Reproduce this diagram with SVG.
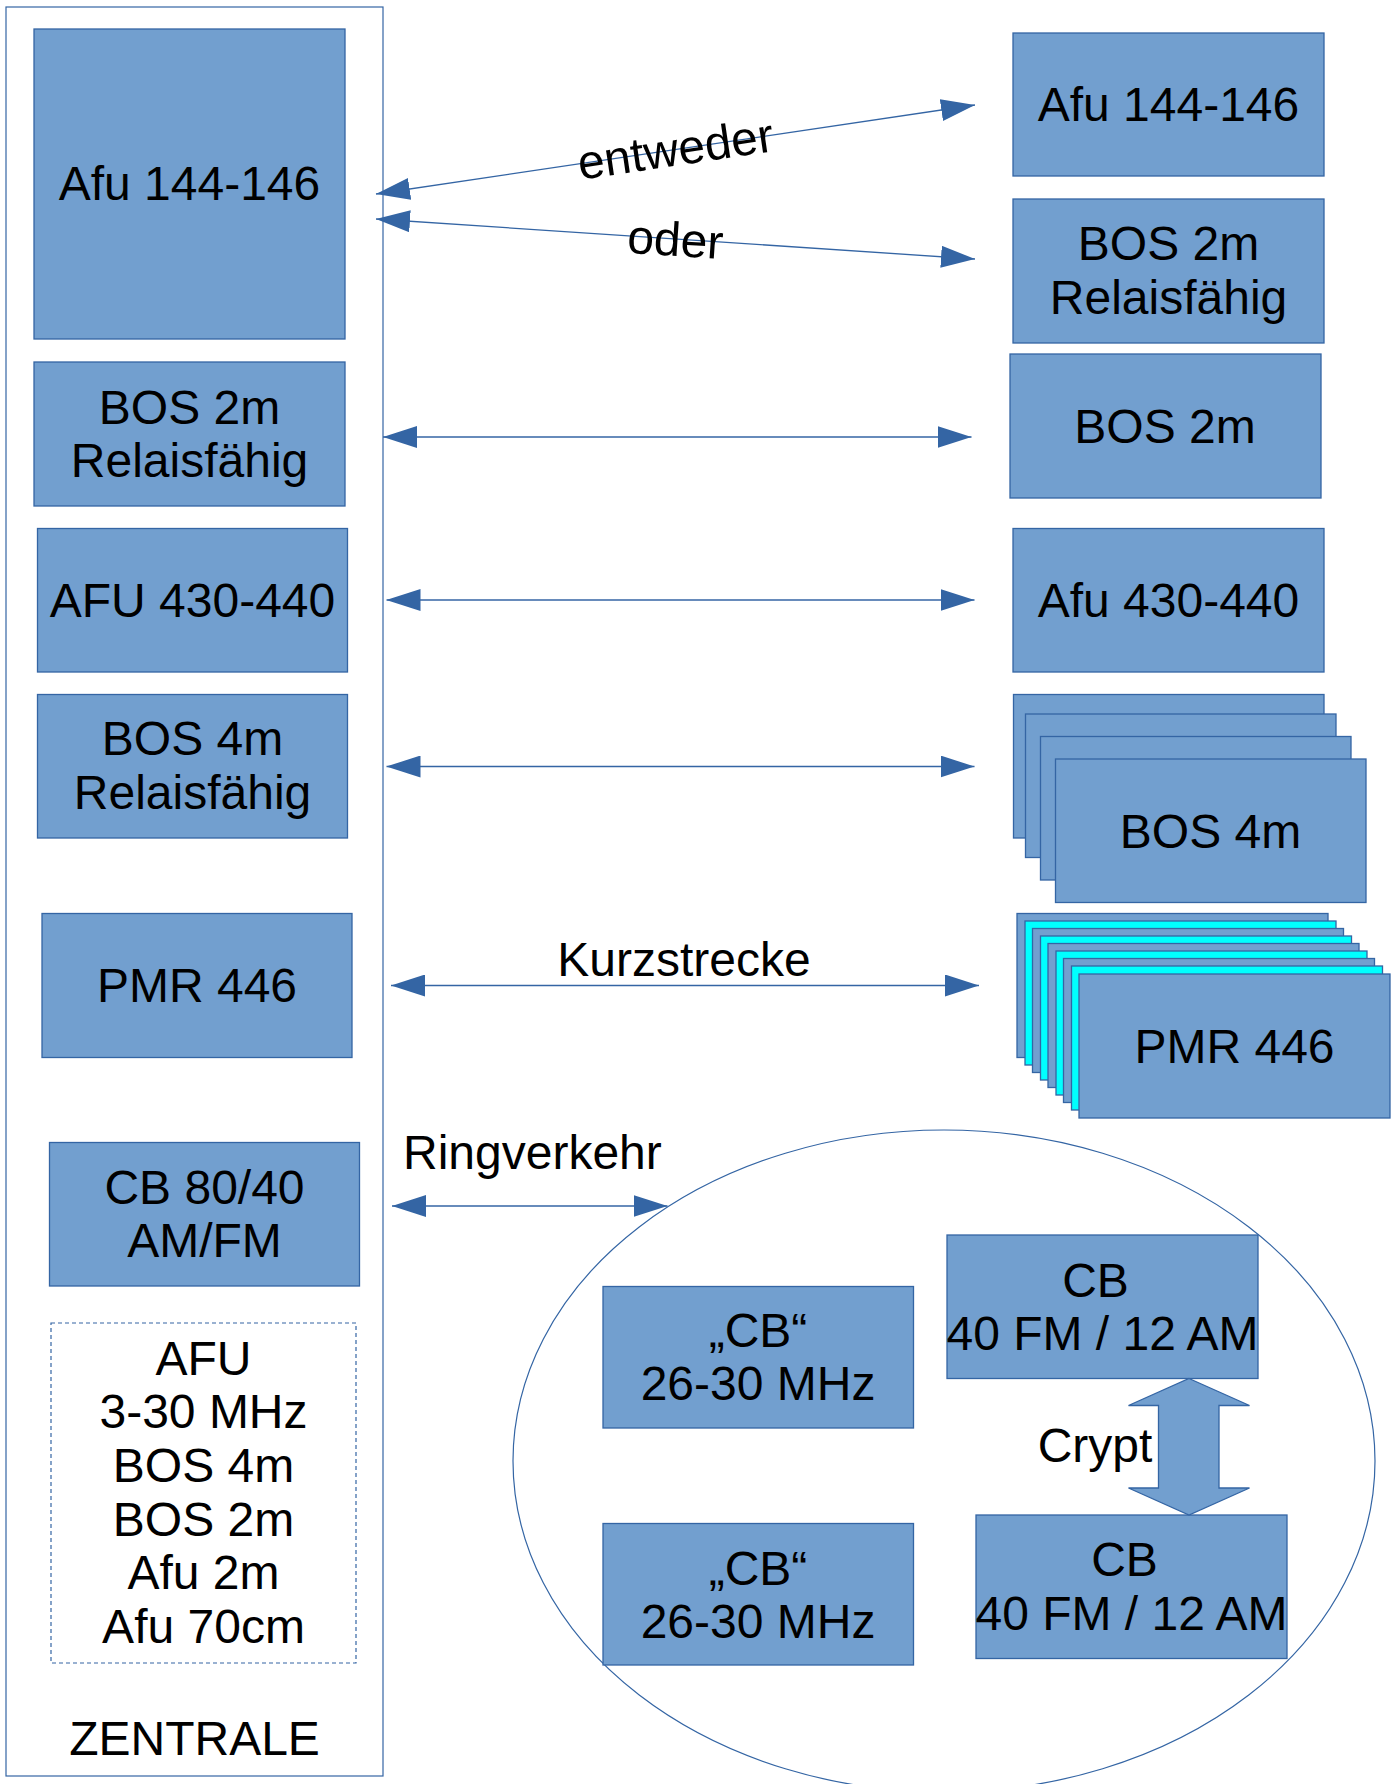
<svg xmlns="http://www.w3.org/2000/svg" width="1399" height="1784" viewBox="0 0 1399 1784">
<defs>
<style>
.box{fill:#729fcf;stroke:#3465a4;stroke-width:1.3}
.cyan{fill:#00ffff;stroke:#3465a4;stroke-width:1.3}
.frame{fill:none;stroke:#3465a4;stroke-width:1.2}
.dash{fill:none;stroke:#3465a4;stroke-width:1.2;stroke-dasharray:4 3}
.con{fill:none;stroke:#3465a4;stroke-width:1.3;marker-start:url(#ah);marker-end:url(#ah)}
text{font-family:"Liberation Sans",Arial,sans-serif;font-size:48px;fill:#000;text-anchor:middle}
.l{text-anchor:start}
</style>
<marker id="ah" markerUnits="userSpaceOnUse" markerWidth="34" markerHeight="22" refX="34" refY="11" orient="auto-start-reverse" viewBox="0 0 34 22">
<path d="M0,0 L34,11 L0,22 Z" fill="#3465a4"/>
</marker>
</defs>
<rect width="1399" height="1784" fill="#fff"/>

<g id="zentrale">
<rect class="frame" x="6" y="7" width="377" height="1769"/>
<text x="194.5" y="1755">ZENTRALE</text>
</g>

<g id="ring-ellipse">
<ellipse class="frame" cx="944" cy="1461" rx="431" ry="331"/>
</g>

<g id="l-afu144">
<rect class="box" x="34" y="29" width="311" height="310"/>
<text x="189.5" y="200">Afu 144-146</text>
</g>
<g id="l-bos2mr">
<rect class="box" x="34" y="362" width="311" height="144"/>
<text x="189.5" y="424">BOS 2m</text>
<text x="189.5" y="477">Relaisfähig</text>
</g>
<g id="l-afu430">
<rect class="box" x="37.5" y="528.5" width="310" height="143.5"/>
<text x="192.5" y="617">AFU 430-440</text>
</g>
<g id="l-bos4mr">
<rect class="box" x="37.5" y="694.5" width="310" height="143.5"/>
<text x="192.5" y="755">BOS 4m</text>
<text x="192.5" y="809">Relaisfähig</text>
</g>
<g id="l-pmr">
<rect class="box" x="42" y="913.5" width="310" height="144"/>
<text x="197" y="1002">PMR 446</text>
</g>
<g id="l-cb">
<rect class="box" x="49.5" y="1142.5" width="310" height="143.5"/>
<text x="204.5" y="1203.5">CB 80/40</text>
<text x="204.5" y="1257">AM/FM</text>
</g>
<g id="l-list">
<rect class="dash" x="51" y="1323" width="305" height="340"/>
<text x="203.5" y="1375">AFU</text>
<text x="203.5" y="1428">3-30 MHz</text>
<text x="203.5" y="1482">BOS 4m</text>
<text x="203.5" y="1536">BOS 2m</text>
<text x="203.5" y="1589">Afu 2m</text>
<text x="203.5" y="1643">Afu 70cm</text>
</g>

<g id="r-afu144">
<rect class="box" x="1013" y="33" width="311" height="143"/>
<text x="1168.5" y="121">Afu 144-146</text>
</g>
<g id="r-bos2mr">
<rect class="box" x="1013" y="199" width="311" height="144"/>
<text x="1168.5" y="260">BOS 2m</text>
<text x="1168.5" y="314">Relaisfähig</text>
</g>
<g id="r-bos2m">
<rect class="box" x="1010" y="354" width="311" height="144"/>
<text x="1165" y="443">BOS 2m</text>
</g>
<g id="r-afu430">
<rect class="box" x="1013" y="528.5" width="311" height="143.5"/>
<text x="1168.5" y="617">Afu 430-440</text>
</g>
<g id="r-bos4m">
<rect class="box" x="1013.5" y="694.5" width="310.5" height="143.5"/>
<rect class="box" x="1025.5" y="714" width="310.5" height="143.5"/>
<rect class="box" x="1040.5" y="736.5" width="310.5" height="143.5"/>
<rect class="box" x="1055.5" y="759" width="310.5" height="143.5"/>
<text x="1210.5" y="848">BOS 4m</text>
</g>
<g id="r-pmr">
<rect class="box" x="1017" y="913.5" width="311" height="144"/>
<rect class="cyan" x="1025" y="921" width="311" height="144"/>
<rect class="box" x="1032.5" y="928.5" width="311" height="144"/>
<rect class="cyan" x="1040.5" y="936" width="311" height="144"/>
<rect class="box" x="1048" y="943.5" width="311" height="144"/>
<rect class="cyan" x="1056" y="951" width="311" height="144"/>
<rect class="box" x="1063.5" y="958.5" width="311" height="144"/>
<rect class="cyan" x="1071.5" y="966" width="311" height="144"/>
<rect class="box" x="1079" y="974" width="311" height="144"/>
<text x="1234.5" y="1063">PMR 446</text>
</g>

<g id="cb-a">
<rect class="box" x="603" y="1286.5" width="310.5" height="141.5"/>
<text x="758" y="1346.5">„CB“</text>
<text x="758" y="1400">26-30 MHz</text>
</g>
<g id="cb-b">
<rect class="box" x="603" y="1523.5" width="310.5" height="141.5"/>
<text x="758" y="1584.5">„CB“</text>
<text x="758" y="1638">26-30 MHz</text>
</g>
<g id="cb-top">
<rect class="box" x="947" y="1235" width="311" height="143.5"/>
<text x="1095.5" y="1296.5">CB</text>
<text x="1102.5" y="1350">40 FM / 12 AM</text>
</g>
<g id="cb-bottom">
<rect class="box" x="976" y="1515" width="311" height="143.5"/>
<text x="1124.5" y="1576">CB</text>
<text x="1131.5" y="1630">40 FM / 12 AM</text>
</g>

<g id="connectors">
<line class="con" x1="376" y1="194" x2="975" y2="105"/>
<line class="con" x1="376" y1="219" x2="975" y2="259"/>
<line class="con" x1="383" y1="437" x2="971.5" y2="437"/>
<line class="con" x1="386.5" y1="600" x2="974.5" y2="600"/>
<line class="con" x1="386.5" y1="766.5" x2="974.5" y2="766.5"/>
<line class="con" x1="391" y1="985.5" x2="979" y2="985.5"/>
<line class="con" x1="392" y1="1206" x2="667.5" y2="1206"/>
<polygon class="box" points="1189,1378.5 1249.5,1405.5 1219,1405.5 1219,1488 1249.5,1488 1189,1515 1128.5,1488 1158.5,1488 1158.5,1405.5 1128.5,1405.5"/>
<text transform="translate(675.5,149.5) rotate(-8.45)" x="0" y="16">entweder</text>
<text transform="translate(675.5,239) rotate(3.82)" x="0" y="17">oder</text>
<text x="684" y="976">Kurzstrecke</text>
<text class="l" x="403" y="1168.5">Ringverkehr</text>
<text x="1095" y="1462">Crypt</text>
</g>
</svg>
